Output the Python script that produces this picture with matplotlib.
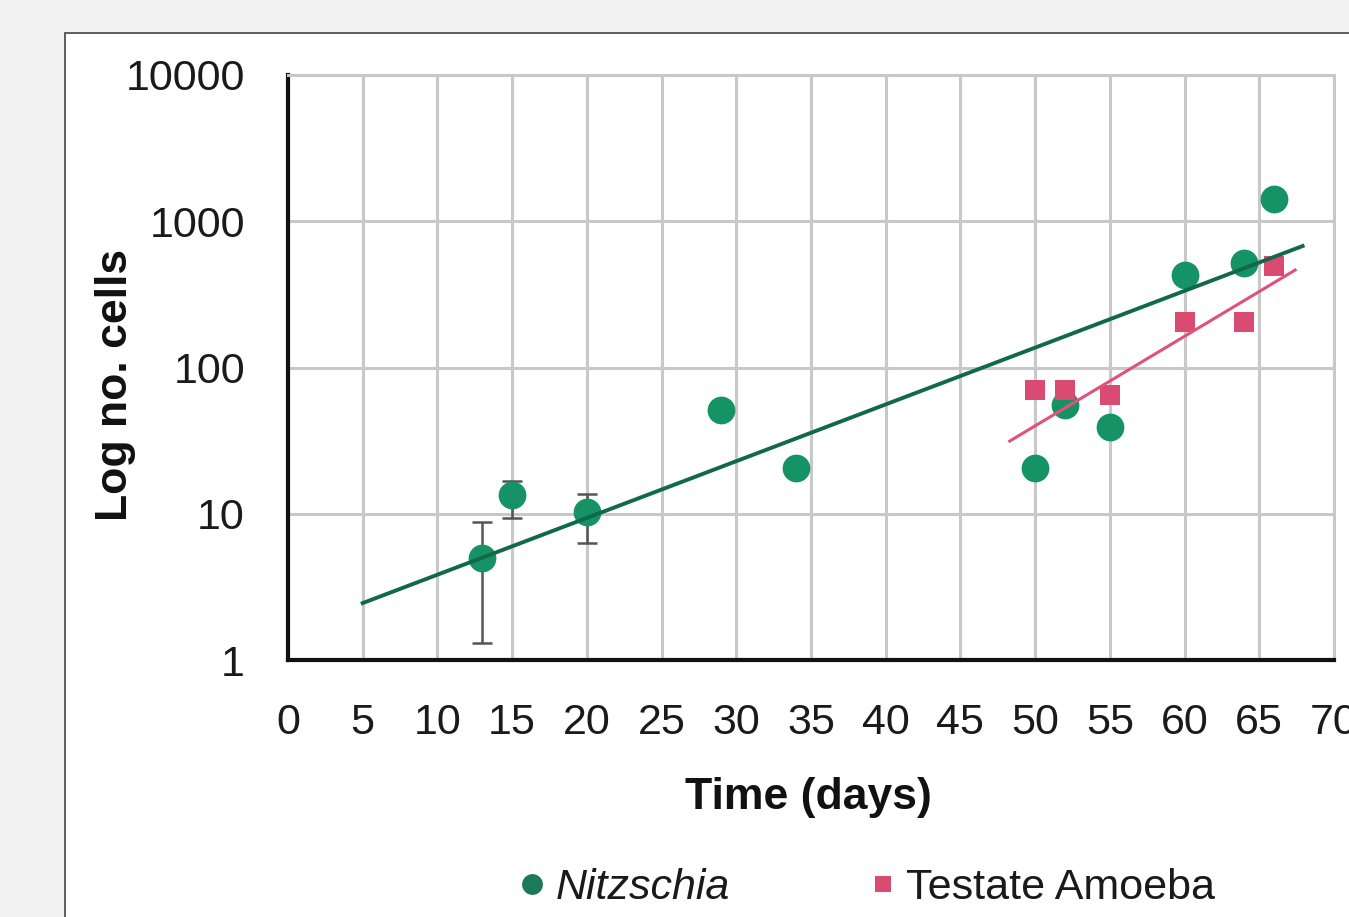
import matplotlib
matplotlib.use("Agg")
import matplotlib.pyplot as plt
from matplotlib.patches import Rectangle
from matplotlib.lines import Line2D

plt.rcParams['font.family'] = ['Liberation Sans', 'DejaVu Sans']

# Data
nitz_days = [13, 15, 20, 29, 34, 50, 52, 55, 60, 64, 66]
nitz_cells = [5, 13.4, 10.3, 51, 20.5, 20.5, 55, 39, 430, 515, 1420]
nitz_err_x = [13, 15, 20]
nitz_err_y = [5, 13.4, 10.3]
nitz_err_lo = [1.3, 9.4, 6.3]
nitz_err_hi = [8.8, 16.7, 13.6]

amoeba_days = [50, 52, 55, 60, 64, 66]
amoeba_cells = [70, 70, 65, 205, 205, 494]

nitz_trend_days = [5, 67.9]
nitz_trend_cells = [2.45, 677]
amoeba_trend_days = [48.3, 67.4]
amoeba_trend_cells = [31.4, 464]

x_ticks = list(range(0, 75, 5))
y_ticks = [1, 10, 100, 1000, 10000]
y_ticklabels = ['1', '10', '100', '1000', '10000']

GREEN = '#159367'
GREEN_LINE = '#11684a'
PINK = '#d94b70'
PINK_LINE = '#e0527a'

W, H = 1349, 917
fig = plt.figure(figsize=(W / 100, H / 100), dpi=100)
fig.patch.set_facecolor('#f2f2f2')
fig.patches.append(Rectangle((65 / W, -0.05), 1.2, (H - 33) / H + 0.05,
                             transform=fig.transFigure, facecolor='white',
                             edgecolor='#444444', linewidth=1.2, zorder=-10))

ax = fig.add_axes([288 / W, (H - 660) / H, (1334 - 288) / W, (660 - 75) / H])
ax.set_facecolor('white')
ax.set_yscale('log')
ax.set_xlim(0, 70)
ax.set_ylim(1, 10000)

ax.set_xticks(x_ticks)
ax.set_xticklabels([str(t) for t in x_ticks])
ax.set_yticks(y_ticks)
ax.set_yticklabels(y_ticklabels)
ax.minorticks_off()
ax.tick_params(axis='both', length=0, labelsize=31, colors='#1a1a1a')
ax.tick_params(axis='x', pad=31)
ax.tick_params(axis='y', pad=31)

ax.grid(True, color='#c8c8c8', linewidth=2.2, zorder=0)
ax.set_axisbelow(True)
for s in ['top', 'right']:
    ax.spines[s].set_color('#c8c8c8')
    ax.spines[s].set_linewidth(2.2)
for s in ['left', 'bottom']:
    ax.spines[s].set_color('#111111')
    ax.spines[s].set_linewidth(3)

# error bars
lo = [y - l for y, l in zip(nitz_err_y, nitz_err_lo)]
hi = [h - y for y, h in zip(nitz_err_y, nitz_err_hi)]
ax.errorbar(nitz_err_x, nitz_err_y, yerr=[lo, hi], fmt='none', ecolor='#555555',
            elinewidth=1.8, capsize=7, capthick=1.8, zorder=2)

ax.plot(nitz_trend_days, nitz_trend_cells, color=GREEN_LINE, linewidth=2.8, zorder=4)
ax.plot(amoeba_trend_days, amoeba_trend_cells, color=PINK_LINE, linewidth=2.2, zorder=4)

ax.plot(nitz_days, nitz_cells, 'o', color=GREEN, markersize=20, markeredgewidth=0, zorder=3)
ax.plot(amoeba_days, amoeba_cells, 's', color=PINK, markersize=15, markeredgewidth=0, zorder=3)

ax.set_xlabel('Time (days)', fontsize=32, fontweight='bold', color='#111111', va='center')
ax.set_ylabel('Log no. cells', fontsize=32, fontweight='bold', color='#111111', va='center')
ax.xaxis.set_label_coords((808 - 288) / 1046, (660 - 797) / 585)
ax.yaxis.set_label_coords((115 - 288) / 1046, (660 - 385) / 585)

handles = [
    Line2D([], [], marker='o', linestyle='none', color='#1a7a5a', markersize=15, markeredgewidth=0),
    Line2D([], [], marker='s', linestyle='none', color=PINK, markersize=12, markeredgewidth=0),
]
leg = fig.legend(handles, ['Nitzschia', 'Testate Amoeba'], loc='center',
                 bbox_to_anchor=(864 / W, (H - 888) / H), ncol=2, frameon=False,
                 fontsize=31, handletextpad=0.1, columnspacing=3.1, handlelength=0.9)
leg.get_texts()[0].set_fontstyle('italic')
for t in leg.get_texts():
    t.set_color('#1a1a1a')

fig.savefig('out.png', dpi=100, facecolor=fig.get_facecolor())
